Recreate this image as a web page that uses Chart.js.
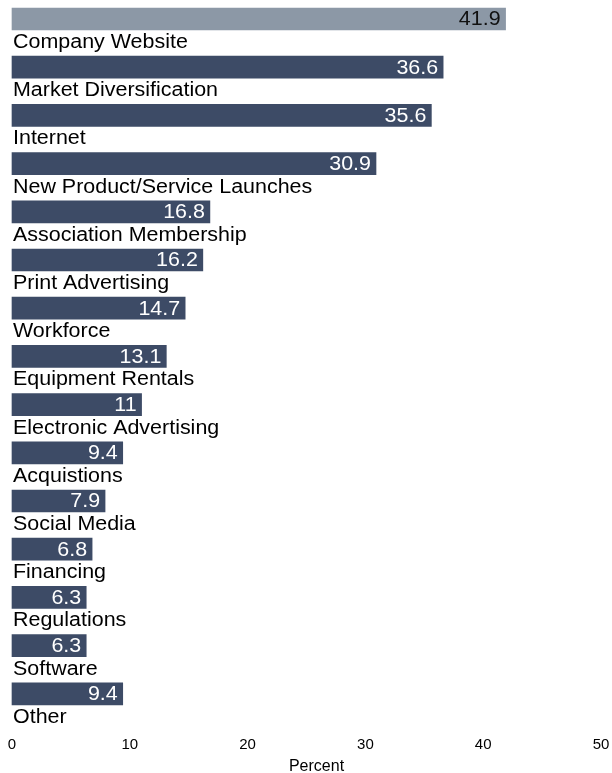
<!DOCTYPE html>
<html>
<head>
<meta charset="utf-8">
<script src="https://cdn.jsdelivr.net/npm/chart.js@4/dist/chart.umd.min.js"></script>
<style>
  html, body { margin: 0; padding: 0; background: #ffffff; }
  #wrap { width: 612px; height: 773px; position: relative; }
</style>
</head>
<body>
<div id="wrap"><canvas id="chart" width="612" height="773"></canvas></div>
<script>
// Share of respondents by marketing / growth channel (percent)
const categories = [
  "Company Website",
  "Market Diversification",
  "Internet",
  "New Product/Service Launches",
  "Association Membership",
  "Print Advertising",
  "Workforce",
  "Equipment Rentals",
  "Electronic Advertising",
  "Acquistions",
  "Social Media",
  "Financing",
  "Regulations",
  "Software",
  "Other"
];
const values = [41.9, 36.6, 35.6, 30.9, 16.8, 16.2, 14.7, 13.1, 11, 9.4, 7.9, 6.8, 6.3, 6.3, 9.4];
const xTicks = [0, 10, 20, 30, 40, 50];
const xTitle = 'Percent';

const FONT = '"Liberation Sans", Arial, Helvetica, sans-serif';
const HIGHLIGHT = '#8c98a6';
const BAR = '#3d4b66';
const TEXT_SIZE = 19.5;
const STRETCH = 1.10;     // slightly wide lettering
const ROW_PITCH = 48.2;   // px per category row
const FIRST_ROW = 19;     // px from top of plot to the first bar centre
const AXIS_BAND = 43;     // height of the x-axis band (ticks + title)

// Draws text widened horizontally, anchored at (x, y)
function wideText(ctx, text, x, y, align) {
  ctx.save();
  ctx.translate(x, y);
  ctx.scale(STRETCH, 1);
  ctx.textAlign = align;
  ctx.fillText(text, 0, 0);
  ctx.restore();
}

// Fix the category axis range so rows get an even pitch from the top
const rowSpacing = {
  id: 'rowSpacing',
  afterLayout(chart) {
    const y = chart.scales.y;
    const h = chart.chartArea.bottom - chart.chartArea.top;
    y.min = -FIRST_ROW / ROW_PITCH;
    y.max = y.min + h / ROW_PITCH;
    y.configure();
  }
};

// Value inside the end of each bar, category name underneath it, axis title
const barLabels = {
  id: 'barLabels',
  afterDatasetsDraw(chart) {
    const ctx = chart.ctx;
    const meta = chart.getDatasetMeta(0);
    ctx.save();
    ctx.font = TEXT_SIZE + 'px ' + FONT;
    meta.data.forEach((bar, i) => {
      const half = bar.height / 2;
      ctx.textBaseline = 'middle';
      ctx.fillStyle = i === 0 ? '#111111' : '#ffffff';
      wideText(ctx, String(values[i]), bar.x - 5, bar.y + 1, 'right');

      ctx.textBaseline = 'alphabetic';
      ctx.fillStyle = '#000000';
      wideText(ctx, categories[i], chart.chartArea.left + 1, bar.y + half + 18, 'left');
    });

    // x-axis title, set a little right of the plot centre
    const xs = chart.scales.x;
    ctx.font = '16px ' + FONT;
    ctx.fillStyle = '#000000';
    ctx.textAlign = 'center';
    ctx.textBaseline = 'middle';
    ctx.fillText(xTitle, (xs.left + xs.right) / 2 + 10, xs.bottom - 6);
    ctx.restore();
  }
};

new Chart(document.getElementById('chart'), {
  type: 'bar',
  data: {
    datasets: [{
      data: values.map((v, i) => ({ x: v, y: i })),
      backgroundColor: values.map((v, i) => i === 0 ? HIGHLIGHT : BAR),
      barThickness: 22,
      borderWidth: 0,
      clip: false
    }]
  },
  options: {
    indexAxis: 'y',
    responsive: false,
    animation: false,
    layout: { padding: { top: 0, left: 12, right: 11, bottom: 0 } },
    plugins: { legend: { display: false }, tooltip: { enabled: false } },
    scales: {
      y: {
        type: 'linear',
        reverse: true,
        offset: false,
        min: 0,
        max: 15,
        display: false
      },
      x: {
        type: 'linear',
        min: 0,
        max: 50,
        afterBuildTicks(scale) { scale.ticks = xTicks.map(v => ({ value: v })); },
        afterFit(scale) {
          scale.height = AXIS_BAND;
          scale.paddingRight = 11;
        },
        grid: { display: false, drawTicks: false },
        border: { display: false },
        ticks: { color: '#000000', font: { family: FONT, size: 15 }, padding: 6, maxRotation: 0 },
        title: { display: false }
      }
    }
  },
  plugins: [rowSpacing, barLabels]
});
</script>
</body>
</html>
